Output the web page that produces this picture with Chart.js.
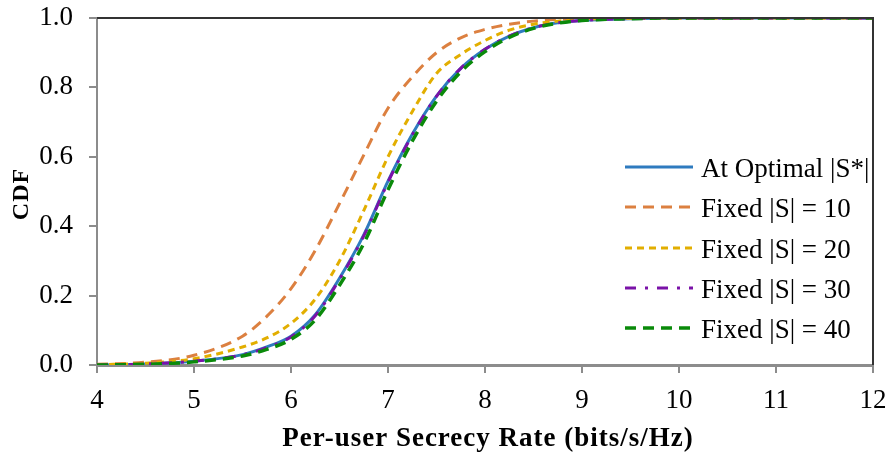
<!DOCTYPE html>
<html>
<head>
<meta charset="utf-8">
<script src="https://cdn.jsdelivr.net/npm/chart.js@4"></script>
<style>
  html, body { margin: 0; padding: 0; background: #fff; }
  #wrap { width: 891px; height: 457px; }
</style>
</head>
<body>
<div id="wrap"><canvas id="cdfChart" width="891" height="457"></canvas></div>
<script>
// secrecy rate samples (bits/s/Hz) and CDF values per scheme
const rateGrid = [4, 4.5, 5, 5.5, 5.75, 6, 6.25, 6.5, 6.75, 7, 7.25, 7.5, 7.75, 8, 8.25, 8.5, 8.75, 9, 9.5, 10, 11, 12];
const cdfOptimal = [0.000, 0.003, 0.011, 0.030, 0.052, 0.083, 0.145, 0.250, 0.375, 0.530, 0.665, 0.775, 0.855, 0.910, 0.948, 0.972, 0.986, 0.993, 0.998, 1.000, 1.000, 1.000];
const cdfFixed10 = [0.002, 0.008, 0.028, 0.083, 0.140, 0.220, 0.330, 0.465, 0.605, 0.740, 0.830, 0.900, 0.943, 0.967, 0.982, 0.991, 0.996, 0.998, 1.000, 1.000, 1.000, 1.000];
const cdfFixed20 = [0.001, 0.005, 0.018, 0.052, 0.078, 0.120, 0.190, 0.300, 0.445, 0.600, 0.730, 0.840, 0.895, 0.935, 0.965, 0.982, 0.991, 0.996, 0.999, 1.000, 1.000, 1.000];
const cdfFixed30 = [0.000, 0.003, 0.011, 0.029, 0.050, 0.081, 0.142, 0.247, 0.372, 0.527, 0.663, 0.774, 0.855, 0.910, 0.948, 0.972, 0.986, 0.993, 0.998, 1.000, 1.000, 1.000];
const cdfFixed40 = [0.000, 0.002, 0.009, 0.026, 0.045, 0.074, 0.130, 0.230, 0.350, 0.505, 0.645, 0.760, 0.845, 0.903, 0.944, 0.970, 0.985, 0.993, 0.998, 1.000, 1.000, 1.000];
const seriesLabels = ['At Optimal |S*|', 'Fixed |S| = 10', 'Fixed |S| = 20', 'Fixed |S| = 30', 'Fixed |S| = 40'];
const xTicks = [4, 5, 6, 7, 8, 9, 10, 11, 12];
const yTicks = [0, 0.2, 0.4, 0.6, 0.8, 1.0];
const xTitle = 'Per-user Secrecy Rate (bits/s/Hz)';
const yTitle = 'CDF';

const serif = "'Liberation Serif', 'DejaVu Serif', serif";

const styles = [
  { color: '#2E7BBF', width: 3, dash: [] },
  { color: '#DC8040', width: 3, dash: [11, 7] },
  { color: '#E2AE00', width: 3, dash: [7, 5] },
  { color: '#7A12A8', width: 3, dash: [11, 9, 3, 9] },
  { color: '#0A8A0A', width: 3.5, dash: [11, 7] }
];

const toPoints = ys => rateGrid.map((x, i) => ({ x: x, y: ys[i] }));
const allSeries = [cdfOptimal, cdfFixed10, cdfFixed20, cdfFixed30, cdfFixed40];

const datasets = allSeries.map((ys, i) => ({
  label: seriesLabels[i],
  data: toPoints(ys),
  borderColor: styles[i].color,
  borderWidth: styles[i].width,
  borderDash: styles[i].dash,
  pointRadius: 0,
  fill: false,
  cubicInterpolationMode: 'monotone',
  order: allSeries.length - i
}));

// dark frame on top and right of the plot
const frame = {
  id: 'frame',
  afterDraw(chart) {
    const { ctx, chartArea: a } = chart;
    ctx.save();
    ctx.strokeStyle = '#333';
    ctx.lineWidth = 2;
    ctx.beginPath();
    ctx.moveTo(a.left, a.top);
    ctx.lineTo(a.right, a.top);
    ctx.lineTo(a.right, a.bottom);
    ctx.stroke();
    ctx.restore();
  }
};

// axis titles, drawn by hand so the letter spacing can be set
const axisTitles = {
  id: 'axisTitles',
  afterDraw(chart) {
    const { ctx, chartArea: a } = chart;
    ctx.save();
    ctx.fillStyle = '#000';
    ctx.textAlign = 'center';
    ctx.textBaseline = 'alphabetic';
    ctx.font = 'bold 27px ' + serif;
    ctx.letterSpacing = '1px';
    ctx.fillText(xTitle, (a.left + a.right) / 2 + 3, 446);
    ctx.font = 'bold 24px ' + serif;
    ctx.translate(28, 194);
    ctx.rotate(-Math.PI / 2);
    ctx.fillText(yTitle, 0, 0);
    ctx.restore();
  }
};

// legend inside the plot, lower right
const insideLegend = {
  id: 'insideLegend',
  afterDraw(chart) {
    const ctx = chart.ctx;
    const x0 = 625, x1 = 693, textX = 701;
    const rows = [167, 207, 248, 288, 328];
    ctx.save();
    chart.data.datasets.forEach((ds, i) => {
      const y = rows[i];
      ctx.strokeStyle = ds.borderColor;
      ctx.lineWidth = ds.borderWidth;
      ctx.setLineDash(ds.borderDash);
      ctx.beginPath();
      ctx.moveTo(x0, y);
      ctx.lineTo(x1, y);
      ctx.stroke();
      ctx.setLineDash([]);
      ctx.fillStyle = '#000';
      ctx.font = '27px ' + serif;
      ctx.textBaseline = 'alphabetic';
      ctx.textAlign = 'left';
      ctx.fillText(ds.label, textX, y + 10);
    });
    ctx.restore();
  }
};

new Chart(document.getElementById('cdfChart'), {
  type: 'line',
  data: { datasets: datasets },
  options: {
    responsive: false,
    animation: false,
    layout: { padding: { top: 18, right: 18, left: 0, bottom: 0 } },
    plugins: {
      legend: { display: false },
      tooltip: { enabled: false }
    },
    scales: {
      x: {
        type: 'linear',
        min: 4,
        max: 12,
        afterBuildTicks: s => { s.ticks = xTicks.map(v => ({ value: v })); },
        afterFit: s => { s.height = 92; s.paddingLeft = 0; s.paddingRight = 0; },
        grid: { drawOnChartArea: false, drawTicks: true, tickLength: 8, color: '#8c8c8c', lineWidth: 2 },
        border: { display: true, color: '#8c8c8c', width: 3 },
        ticks: {
          color: '#000',
          font: { family: serif, size: 27 },
          padding: 12,
          maxRotation: 0,
          callback: v => String(v)
        },
        title: { display: false }
      },
      y: {
        min: 0,
        max: 1,
        afterBuildTicks: s => { s.ticks = yTicks.map(v => ({ value: v })); },
        afterFit: s => { s.width = 97; s.paddingTop = 0; s.paddingBottom = 0; },
        grid: { drawOnChartArea: false, drawTicks: true, tickLength: 8, color: '#8c8c8c', lineWidth: 2 },
        border: { display: true, color: '#8c8c8c', width: 2 },
        ticks: {
          color: '#000',
          font: { family: serif, size: 27 },
          padding: 16,
          callback: v => Number(v).toFixed(1)
        },
        title: { display: false }
      }
    }
  },
  plugins: [frame, axisTitles, insideLegend]
});
</script>
</body>
</html>
